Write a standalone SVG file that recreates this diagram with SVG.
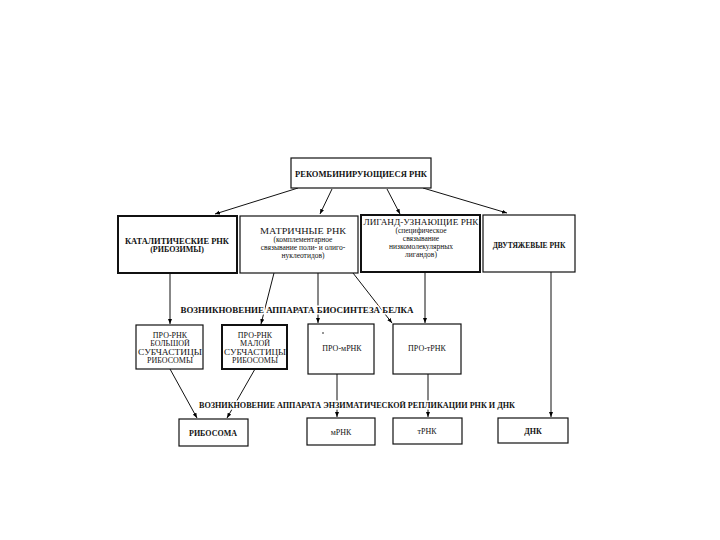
<svg xmlns="http://www.w3.org/2000/svg" width="720" height="540" viewBox="0 0 720 540">
<defs>
<marker id="ah" viewBox="0 0 10 10" refX="10" refY="5" markerWidth="5" markerHeight="5" orient="auto" markerUnits="userSpaceOnUse">
<path d="M0,1 L10,5 L0,9 z" fill="#000"/>
</marker>
<style>
.bx{fill:#fff;stroke:#111;stroke-width:1.2}
.bk{fill:#fff;stroke:#111;stroke-width:2}
.t{font-family:"Liberation Serif","DejaVu Serif",serif;font-size:8px;fill:#111;text-anchor:middle}
.b{font-weight:bold}
.s{font-size:7.5px}
.h{stroke:#fff;stroke-width:3;paint-order:stroke}
.c{stroke:#111;stroke-width:1;fill:none;marker-end:url(#ah)}
</style>
</defs>
<rect width="720" height="540" fill="#fff"/>
<g id="connectors">
<line class="c" x1="298" y1="188" x2="215" y2="214"/>
<line class="c" x1="332" y1="189" x2="320" y2="214"/>
<line class="c" x1="387" y1="189" x2="400" y2="214"/>
<line class="c" x1="423" y1="188" x2="507" y2="213"/>
<line class="c" x1="170" y1="273" x2="170" y2="324"/>
<line class="c" x1="274" y1="273" x2="261" y2="324"/>
<line class="c" x1="318" y1="273" x2="318" y2="323"/>
<line class="c" x1="353" y1="273" x2="392" y2="323"/>
<line class="c" x1="425" y1="272" x2="425" y2="323"/>
<line class="c" x1="551" y1="272" x2="551" y2="417"/>
<line class="c" x1="170" y1="369" x2="197" y2="418"/>
<line class="c" x1="255" y1="369" x2="227" y2="418"/>
<line class="c" x1="337" y1="374" x2="337" y2="417"/>
<line class="c" x1="428" y1="374" x2="428" y2="417"/>
</g>
<g id="n-top">
<rect class="bx" x="291" y="158" width="140" height="30"/>
<text class="t b" x="361" y="177" textLength="132" lengthAdjust="spacingAndGlyphs">РЕКОМБИНИРУЮЩИЕСЯ РНК</text>
</g>
<g id="n-kat">
<rect class="bk" x="118" y="216" width="119" height="57"/>
<text class="t b" x="177" y="244" textLength="104" lengthAdjust="spacingAndGlyphs">КАТАЛИТИЧЕСКИЕ РНК</text>
<text class="t b" x="177" y="252">(РИБОЗИМЫ)</text>
</g>
<g id="n-mat">
<rect class="bx" x="240" y="216" width="118" height="57"/>
<text class="t" x="303" y="234" textLength="86" lengthAdjust="spacingAndGlyphs">МАТРИЧНЫЕ РНК</text>
<text class="t s" x="303" y="242">(комплементарное</text>
<text class="t s" x="303" y="250">связывание поли- и олиго-</text>
<text class="t s" x="303" y="258">нуклеотидов)</text>
</g>
<g id="n-lig">
<rect class="bk" x="361" y="215" width="119" height="57"/>
<text class="t" x="421" y="225" textLength="115" lengthAdjust="spacingAndGlyphs">ЛИГАНД-УЗНАЮЩИЕ РНК</text>
<text class="t s" x="421" y="233">(специфическое</text>
<text class="t s" x="421" y="241">связывание</text>
<text class="t s" x="421" y="249">низкомолекулярных</text>
<text class="t s" x="421" y="257">лигандов)</text>
</g>
<g id="n-dvu">
<rect class="bx" x="483" y="215" width="92" height="57"/>
<text class="t b" x="529" y="248" style="font-size:7.5px">ДВУТЯЖЕВЫЕ РНК</text>
</g>
<text class="t b h" x="297" y="313" textLength="233" lengthAdjust="spacingAndGlyphs">ВОЗНИКНОВЕНИЕ АППАРАТА БИОСИНТЕЗА БЕЛКА</text>
<g id="n-bol">
<rect class="bx" x="136" y="325" width="67" height="44"/>
<text class="t" x="170" y="338">ПРО-РНК</text>
<text class="t" x="170" y="346">БОЛЬШОЙ</text>
<text class="t" x="170" y="355" textLength="64" lengthAdjust="spacingAndGlyphs">СУБЧАСТИЦЫ</text>
<text class="t" x="170" y="363">РИБОСОМЫ</text>
</g>
<g id="n-mal">
<rect class="bk" x="222" y="325" width="65" height="44"/>
<text class="t" x="255" y="338">ПРО-РНК</text>
<text class="t" x="255" y="346">МАЛОЙ</text>
<text class="t" x="255" y="355" textLength="62" lengthAdjust="spacingAndGlyphs">СУБЧАСТИЦЫ</text>
<text class="t" x="255" y="363">РИБОСОМЫ</text>
</g>
<g id="n-prom">
<rect class="bx" x="308" y="324" width="66" height="50"/>
<circle cx="323" cy="333" r="0.8" fill="#111"/>
<text class="t" x="342" y="351">ПРО-мРНК</text>
</g>
<g id="n-prot">
<rect class="bx" x="393" y="324" width="68" height="50"/>
<text class="t" x="427" y="351">ПРО-тРНК</text>
</g>
<text class="t b h" x="357" y="408" textLength="316" lengthAdjust="spacingAndGlyphs">ВОЗНИКНОВЕНИЕ АППАРАТА ЭНЗИМАТИЧЕСКОЙ РЕПЛИКАЦИИ РНК И ДНК</text>
<g id="n-rib">
<rect class="bx" x="179" y="419" width="69" height="27"/>
<text class="t b" x="213" y="436">РИБОСОМА</text>
</g>
<g id="n-m">
<rect class="bx" x="307" y="418" width="68" height="27"/>
<text class="t" x="341" y="435">мРНК</text>
</g>
<g id="n-t">
<rect class="bx" x="393" y="418" width="69" height="26"/>
<text class="t" x="427" y="434">тРНК</text>
</g>
<g id="n-dnk">
<rect class="bx" x="498" y="418" width="70" height="25"/>
<text class="t b" x="533" y="434">ДНК</text>
</g>
</svg>
